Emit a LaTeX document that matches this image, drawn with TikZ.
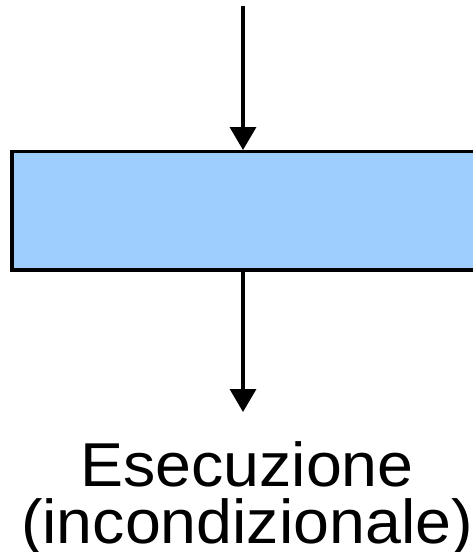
\documentclass[tikz,border=0pt]{standalone}
\usepackage{fontspec}
\setmainfont{Liberation Sans}
\usetikzlibrary{arrows.meta}

\tikzset{
    flow/.style = {line width=3.5pt, -{Triangle[width=26pt,length=23pt]}},
    blocco/.style = {draw, line width=3.5pt, fill=azzurro},
}
\definecolor{azzurro}{RGB}{158,206,252}

\begin{document}
\begin{tikzpicture}[x=1pt, y=-1pt]
                \useasboundingbox (0,0) rectangle (473,552);
                \clip (0,0) rectangle (473,552);
                \coordinate (in) at (243,6);
                \coordinate (out) at (243,412);
                \draw[blocco] (12,151.7) rectangle (500,270);
                \coordinate (sopra) at (243,150);
                \coordinate (sotto) at (243,270);
                \draw[flow] (in) -- (sopra);
                \draw[flow] (sotto) -- (out);
                \node[anchor=base, align=center, inner sep=0pt, xscale=1.04, transform shape,
                      font=\fontsize{62}{57}\selectfont] (testo) at (247,543)
                      {Esecuzione\\(incondizionale)};

            \end{tikzpicture}
\end{document}
